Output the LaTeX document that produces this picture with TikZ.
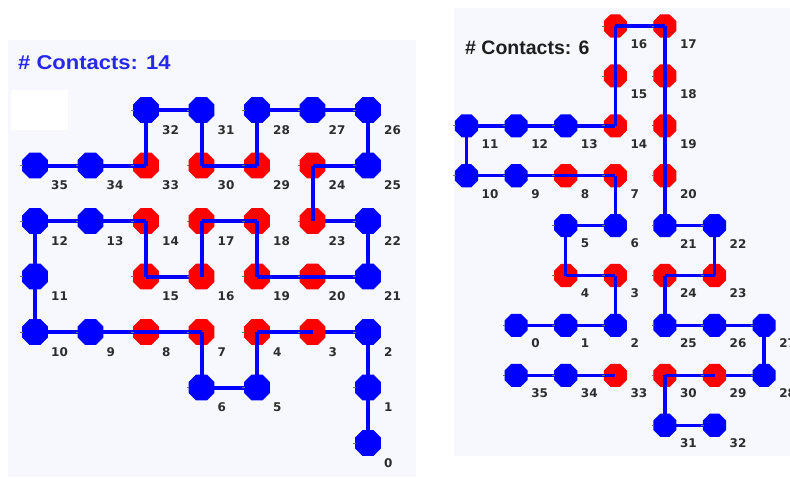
\documentclass[tikz,border=0pt]{standalone}
\usepackage{fontspec}
\setmainfont{Liberation Sans}
\newfontfamily\numfont{DejaVu Sans}
\usetikzlibrary{shapes.geometric,calc}
\definecolor{panelbg}{RGB}{247,248,254}
\definecolor{pc}{RGB}{0,0,255}
\definecolor{hc}{RGB}{255,0,0}
\definecolor{bondc}{RGB}{0,0,255}
\definecolor{titleblue}{RGB}{40,40,235}
\definecolor{titledark}{RGB}{30,30,30}
\definecolor{numgray}{RGB}{45,45,45}
\pgfdeclarelayer{panel}
\pgfdeclarelayer{bonds}
\pgfsetlayers{panel,bonds,main}
\tikzset{
  monoL/.style={regular polygon, regular polygon sides=8, minimum size=28pt,
    inner sep=0pt, draw=none},
  monoR/.style={regular polygon, regular polygon sides=8, minimum size=25pt,
    inner sep=0pt, draw=none},
  bondL/.style={draw=bondc, line width=4pt},
  bondR/.style={draw=bondc, line width=3.4pt},
  idx/.style={anchor=west, inner sep=0pt, text=numgray,
    font=\numfont\bfseries\fontsize{12}{12}\selectfont},
  tick/.style={draw=black!55, line width=0.8pt},
  title/.style={anchor=base west, inner sep=0pt,
    font=\bfseries\fontsize{20}{20}\selectfont},
}
\begin{document}
\begin{tikzpicture}[x=1pt,y=-1pt]
\useasboundingbox (0,0) rectangle (790,477);

% panels
\begin{pgfonlayer}{panel}
\fill[panelbg] (8,40) rectangle (416,477);
\fill[white] (11,90) rectangle (68,130);
\fill[panelbg] (454,8) rectangle (790,456);
\end{pgfonlayer}

% titles
\node[title, text=titleblue] (titleL) at (18,69.5) {\scalebox{1.1}[1]{\# Contacts: 14}};
\node[title, text=titledark, font=\bfseries\fontsize{19.5}{20}\selectfont] (titleR) at (465,54) {\# Contacts: 6};

% ---------- left conformation ----------
\begin{scope}[shift={(35pt,-110pt)}, x=55.5pt, y=-55.5pt]
\foreach \i/\c/\r/\t in {
  0/6/6/pc, 1/6/5/pc, 2/6/4/pc, 3/5/4/hc, 4/4/4/hc, 5/4/5/pc, 6/3/5/pc,
  7/3/4/hc, 8/2/4/hc, 9/1/4/pc, 10/0/4/pc, 11/0/3/pc, 12/0/2/pc, 13/1/2/pc,
  14/2/2/hc, 15/2/3/hc, 16/3/3/hc, 17/3/2/hc, 18/4/2/hc, 19/4/3/hc,
  20/5/3/hc, 21/6/3/pc, 22/6/2/pc, 23/5/2/hc, 24/5/1/hc, 25/6/1/pc,
  26/6/0/pc, 27/5/0/pc, 28/4/0/pc, 29/4/1/hc, 30/3/1/hc, 31/3/0/pc,
  32/2/0/pc, 33/2/1/hc, 34/1/1/pc, 35/0/1/pc}
  \node[monoL, fill=\t] (L\i) at (\c,\r) {};
\end{scope}

% bonds: full chain under the monomers, most of it repeated on top
\begin{pgfonlayer}{bonds}
\foreach \i [evaluate=\i as \j using int(\i+1)] in {0,...,34}
  \draw[bondL] (L\i.center) -- (L\j.center);
\end{pgfonlayer}
\foreach \i [evaluate=\i as \j using int(\i+1)] in
  {0,1,3,4,5,6,7,8,9,10,11,12,13,14,16,17,18,19,20,21,23,24,25,26,27,28,29,30,31,32,33,34}
  \draw[bondL] (L\i.center) -- (L\j.center);
\draw[bondL] (L2.center) -- ($(L2)!0.5!(L3)$);
\draw[bondL] (L15.center) -- ($(L15)!0.5!(L16)$);
\draw[bondL] (L22.center) -- ($(L22)!0.5!(L23)$);

\foreach \i in {0,...,35}{
  \draw[tick] ([xshift=-1.5pt]L\i.west) -- ++(2.5pt,0);
  \node[idx] (Llab\i) at ([xshift=16pt,yshift=-20pt]L\i.center) {\i};
}

% ---------- right conformation ----------
\begin{scope}[shift={(466.5pt,-26pt)}, x=49.6pt, y=-49.9pt]
\foreach \i/\c/\r/\t in {
  0/1/6/pc, 1/2/6/pc, 2/3/6/pc, 3/3/5/hc, 4/2/5/hc, 5/2/4/pc, 6/3/4/pc,
  7/3/3/hc, 8/2/3/hc, 9/1/3/pc, 10/0/3/pc, 11/0/2/pc, 12/1/2/pc, 13/2/2/pc,
  14/3/2/hc, 15/3/1/hc, 16/3/0/hc, 17/4/0/hc, 18/4/1/hc, 19/4/2/hc,
  20/4/3/hc, 21/4/4/pc, 22/5/4/pc, 23/5/5/hc, 24/4/5/hc, 25/4/6/pc,
  26/5/6/pc, 27/6/6/pc, 28/6/7/pc, 29/5/7/hc, 30/4/7/hc, 31/4/8/pc,
  32/5/8/pc, 33/3/7/hc, 34/2/7/pc, 35/1/7/pc}
  \node[monoR, fill=\t] (R\i) at (\c,\r) {};
\end{scope}

\begin{pgfonlayer}{bonds}
\foreach \i [evaluate=\i as \j using int(\i+1)] in {0,...,31,33,34}
  \draw[bondR] (R\i.center) -- (R\j.center);
\end{pgfonlayer}
\foreach \i [evaluate=\i as \j using int(\i+1)] in
  {0,...,27,29,30,31,33,34}
  \draw[bondR] (R\i.center) -- (R\j.center);
\draw[bondR] (R28.center) -- ($(R28)!0.5!(R29)$);

\foreach \i in {0,...,35}{
  \draw[tick] ([xshift=-1.5pt]R\i.west) -- ++(2.5pt,0);
  \node[idx] (Rlab\i) at ([xshift=15pt,yshift=-18pt]R\i.center) {\i};
}
\end{tikzpicture}
\end{document}
